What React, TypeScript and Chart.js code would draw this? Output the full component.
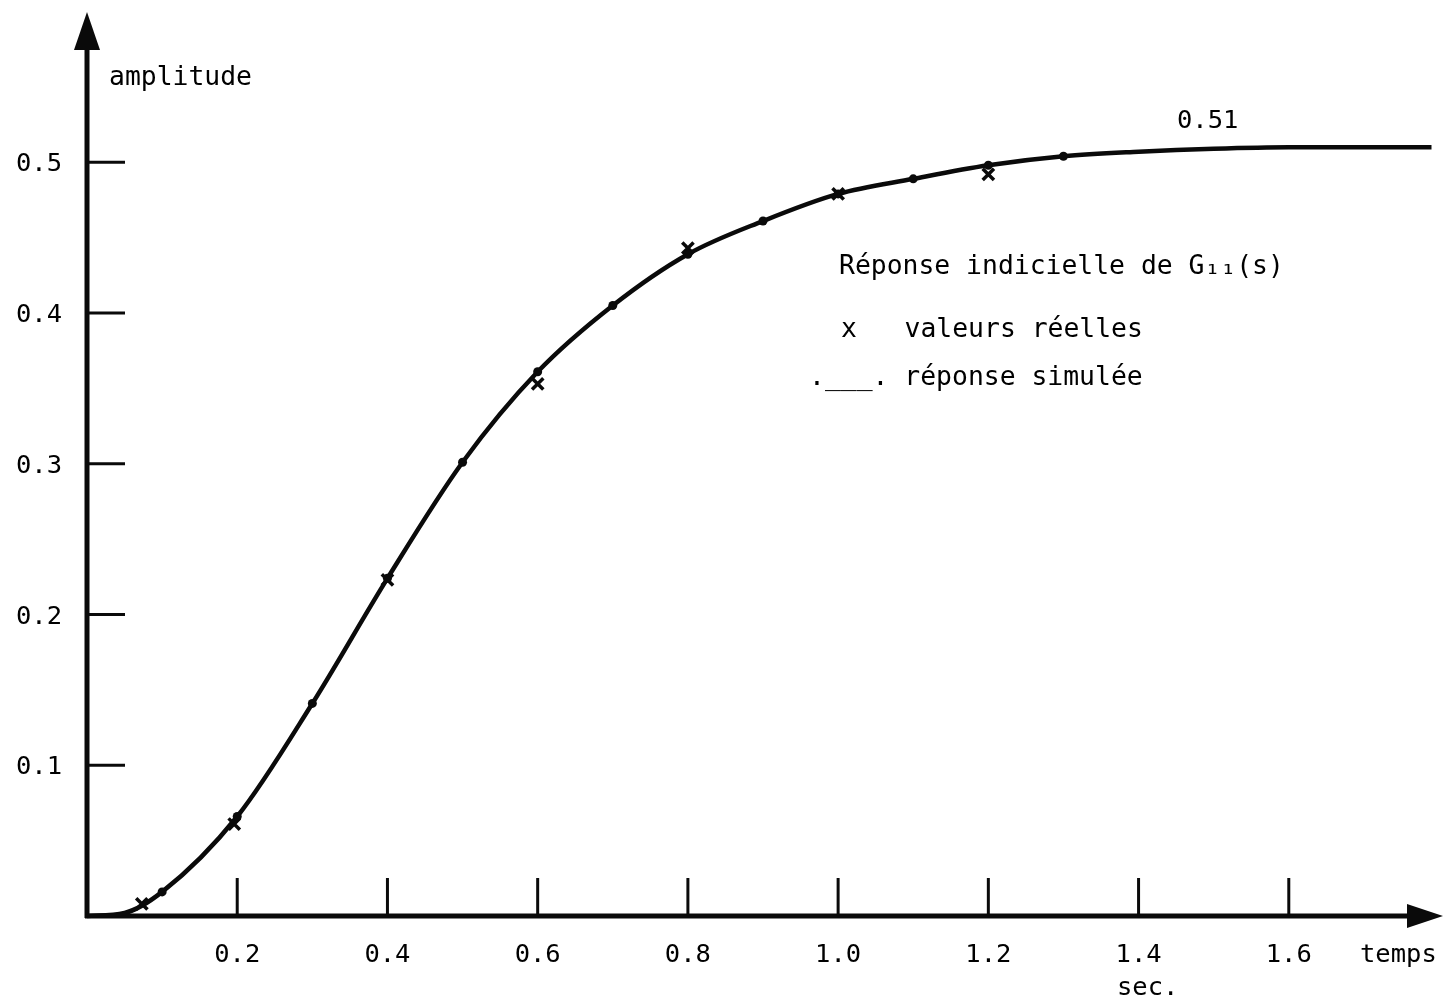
import React, { useEffect, useRef } from "react";
import { Chart, registerables } from "chart.js";

Chart.register(...registerables);

// Simulated step response of G11(s)
const simTimes = [0, 0.05, 0.1, 0.2, 0.3, 0.4, 0.5, 0.6, 0.7, 0.8, 0.9, 1.0, 1.1, 1.2, 1.3, 1.4, 1.5, 1.6, 1.7, 1.79];
const simValues = [0, 0.002, 0.016, 0.066, 0.141, 0.224, 0.301, 0.361, 0.405, 0.439, 0.461, 0.479, 0.489, 0.498, 0.504, 0.507, 0.509, 0.51, 0.51, 0.51];
// Times at which the simulated curve carries a dot
const simDotTimes = [0.1, 0.2, 0.3, 0.4, 0.5, 0.6, 0.7, 0.8, 0.9, 1.0, 1.1, 1.2, 1.3];

// Measured values (x)
const realTimes = [0.073, 0.196, 0.4, 0.6, 0.8, 1.0, 1.2];
const realValues = [0.008, 0.061, 0.223, 0.353, 0.443, 0.479, 0.492];

// Axis ticks
const xTicks = [0.2, 0.4, 0.6, 0.8, 1.0, 1.2, 1.4, 1.6];
const xTickLabels = ["0.2", "0.4", "0.6", "0.8", "1.0", "1.2", "1.4", "1.6"];
const yTicks = [0.1, 0.2, 0.3, 0.4, 0.5];
const yTickLabels = ["0.1", "0.2", "0.3", "0.4", "0.5"];

const finalValueLabel = "0.51";
const FONT_TICK = '25.5px "DejaVu Sans Mono", "Liberation Mono", monospace';
const FONT_TEXT = '26.4px "DejaVu Sans Mono", "Liberation Mono", monospace';
const INK = "#0a0a0a";

const axesPlugin = {
  id: "handAxes",
  beforeDatasetsDraw(chart: any) {
    const { ctx, scales } = chart;
    const xs = scales.x;
    const ys = scales.y;
    const x0 = xs.getPixelForValue(0);
    const y0 = ys.getPixelForValue(0);
    ctx.save();
    ctx.strokeStyle = INK;
    ctx.fillStyle = INK;
    // y axis
    ctx.lineWidth = 5;
    ctx.beginPath();
    ctx.moveTo(x0, y0 + 2);
    ctx.lineTo(x0, 45);
    ctx.stroke();
    ctx.beginPath();
    ctx.moveTo(x0, 12);
    ctx.lineTo(x0 - 13, 50);
    ctx.lineTo(x0 + 13, 50);
    ctx.closePath();
    ctx.fill();
    // x axis
    ctx.beginPath();
    ctx.moveTo(x0 - 2, y0);
    ctx.lineTo(1412, y0);
    ctx.stroke();
    ctx.beginPath();
    ctx.moveTo(1443, y0);
    ctx.lineTo(1407, y0 - 12);
    ctx.lineTo(1407, y0 + 12);
    ctx.closePath();
    ctx.fill();
    // ticks
    ctx.lineWidth = 3;
    xTicks.forEach((v) => {
      const px = xs.getPixelForValue(v);
      ctx.beginPath();
      ctx.moveTo(px, y0 - 38);
      ctx.lineTo(px, y0);
      ctx.stroke();
    });
    yTicks.forEach((v) => {
      const py = ys.getPixelForValue(v);
      ctx.beginPath();
      ctx.moveTo(x0, py);
      ctx.lineTo(x0 + 38, py);
      ctx.stroke();
    });
    ctx.restore();
  },
  afterDraw(chart: any) {
    const { ctx, scales } = chart;
    const xs = scales.x;
    const ys = scales.y;
    ctx.save();
    ctx.fillStyle = "#000";
    ctx.textBaseline = "alphabetic";
    // tick labels
    ctx.font = FONT_TICK;
    ctx.textAlign = "center";
    xTicks.forEach((v, i) => {
      ctx.fillText(xTickLabels[i], xs.getPixelForValue(v), 962);
    });
    ctx.textAlign = "right";
    yTicks.forEach((v, i) => {
      ctx.fillText(yTickLabels[i], 62, ys.getPixelForValue(v) + 9);
    });
    ctx.textAlign = "left";
    ctx.fillText("temps", 1360, 962);
    ctx.fillText("sec.", 1117, 995);
    ctx.fillText(finalValueLabel, 1177, 128);
    ctx.font = FONT_TEXT;
    ctx.fillText("amplitude", 109, 85);
    ctx.fillText("Réponse indicielle de G₁₁(s)", 839, 274);
    ctx.fillText("x   valeurs réelles", 841, 337);
    ctx.fillText(".___. réponse simulée", 809, 385);
    ctx.restore();
  },
};

export default function App() {
  const ref = useRef<HTMLCanvasElement | null>(null);
  useEffect(() => {
    document.body.style.margin = "0";
    const canvas = ref.current;
    if (!canvas) return;
    const chart = new Chart(canvas, {
      type: "scatter",
      data: {
        datasets: [
          {
            label: "réponse simulée",
            data: simTimes.map((t, i) => ({ x: t, y: simValues[i] })),
            showLine: true,
            borderColor: INK,
            borderWidth: 4.5,
            cubicInterpolationMode: "monotone",
            pointRadius: (c: any) => {
              const t = simTimes[c.dataIndex];
              return simDotTimes.some((d) => Math.abs(d - t) < 1e-6) ? 4.5 : 0;
            },
            pointBackgroundColor: INK,
            pointBorderColor: INK,
            pointBorderWidth: 0,
            clip: false,
          } as any,
          {
            label: "valeurs réelles",
            data: realTimes.map((t, i) => ({ x: t, y: realValues[i] })),
            showLine: false,
            pointStyle: "crossRot",
            pointRadius: 8,
            pointBorderWidth: 3.5,
            borderColor: INK,
            backgroundColor: INK,
            clip: false,
          } as any,
        ],
      },
      options: {
        responsive: false,
        animation: false,
        events: [],
        layout: { padding: { left: 87, top: 8.5, right: 5.7, bottom: 86 } },
        plugins: { legend: { display: false }, tooltip: { enabled: false } },
        scales: {
          x: { type: "linear", min: 0, max: 1.79, display: false },
          y: { type: "linear", min: 0, max: 0.6, display: false },
        },
      },
      plugins: [axesPlugin],
    });
    return () => chart.destroy();
  }, []);
  return <canvas ref={ref} width={1443} height={1002} style={{ display: "block" }} />;
}
